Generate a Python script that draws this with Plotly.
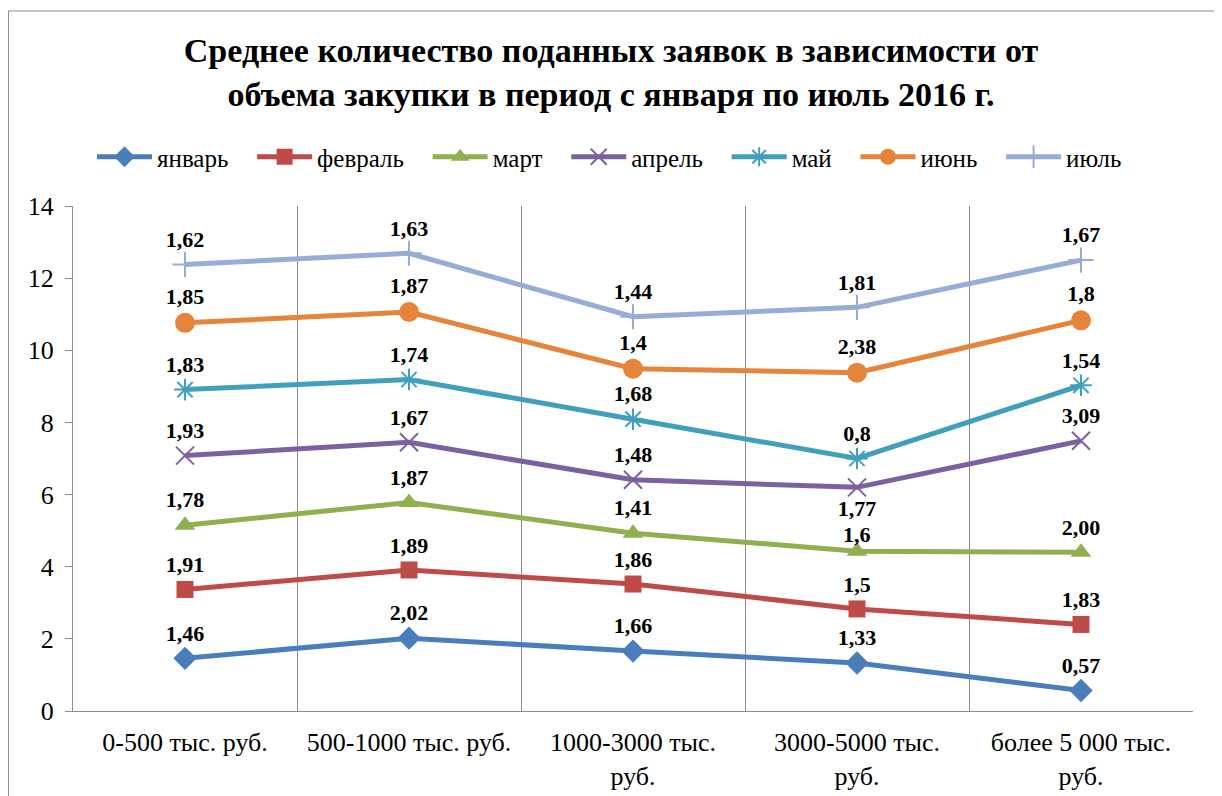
import plotly.graph_objects as go

categories = ["0-500 тыс. руб.", "500-1000 тыс. руб.", "1000-3000 тыс.<br>руб.",
              "3000-5000 тыс.<br>руб.", "более 5 000 тыс.<br>руб."]

series_names = ["январь", "февраль", "март", "апрель", "май", "июнь", "июль"]

jan = [1.46, 2.02, 1.66, 1.33, 0.57]
feb = [1.91, 1.89, 1.86, 1.50, 1.83]
mar = [1.78, 1.87, 1.41, 1.60, 2.00]
apr = [1.93, 1.67, 1.48, 1.77, 3.09]
may = [1.83, 1.74, 1.68, 0.80, 1.54]
jun = [1.85, 1.87, 1.40, 2.38, 1.80]
jul = [1.62, 1.63, 1.44, 1.81, 1.67]

jan_labels = ["1,46", "2,02", "1,66", "1,33", "0,57"]
feb_labels = ["1,91", "1,89", "1,86", "1,5", "1,83"]
mar_labels = ["1,78", "1,87", "1,41", "1,6", "2,00"]
apr_labels = ["1,93", "1,67", "1,48", "1,77", "3,09"]
may_labels = ["1,83", "1,74", "1,68", "0,8", "1,54"]
jun_labels = ["1,85", "1,87", "1,4", "2,38", "1,8"]
jul_labels = ["1,62", "1,63", "1,44", "1,81", "1,67"]

values = [jan, feb, mar, apr, may, jun, jul]
labels = [jan_labels, feb_labels, mar_labels, apr_labels, may_labels, jun_labels, jul_labels]

colors = ["#4A7EBB", "#BE4B48", "#8EB04F", "#7D60A0", "#40A0BC", "#E5843A", "#98ADD6"]
symbols = ["diamond", "square", "triangle-up", "x-thin-open", "asterisk-open", "circle", "cross-thin-open"]
sizes = [18, 17, 18, 18, 18, 20, 18]

FONT = "Liberation Serif, Times New Roman, serif"
LABEL_FONT = dict(family=FONT, size=22, color="black", weight="bold")

# the page body adds an 8px offset; plot area on screen: x 73..1193, y 206..711
OFF = 8
W, H = 1222 - OFF, 796 - OFF
PL, PR, PT, PB = 73 - OFF, 1193 - OFF, 206 - OFF, 711 - OFF
pw = PR - PL
ph = PB - PT

fig = go.Figure()
cum = [0.0] * len(categories)
annotations = []
for i, name in enumerate(series_names):
    cum = [c + v for c, v in zip(cum, values[i])]
    positions = ["top center"] * len(categories)
    texts = list(labels[i])
    if name == "апрель":
        positions[3] = "bottom center"
    if name == "март":
        # this label sits closer to its marker in the original
        texts[3] = ""
        annotations.append(dict(x=categories[3], y=cum[3], text=labels[i][3],
                                showarrow=False, yshift=17, font=LABEL_FONT))
    open_sym = symbols[i].endswith("open")
    fig.add_trace(go.Scatter(
        x=categories, y=values[i], name=name + "\u00a0\u00a0\u00a0",
        stackgroup="one", fill="none",
        mode="lines+markers+text",
        line=dict(color=colors[i], width=5),
        marker=dict(symbol=symbols[i], size=sizes[i], color=colors[i],
                    line=dict(color=colors[i], width=2 if open_sym else 0)),
        text=texts, textposition=positions,
        textfont=LABEL_FONT,
        hoverinfo="skip",
    ))

fig.update_layout(
    width=W, height=H, autosize=False,
    paper_bgcolor="white", plot_bgcolor="white",
    margin=dict(l=PL, r=W - PR, t=PT, b=H - PB, autoexpand=False),
    font=dict(family=FONT, color="black"),
    title=dict(
        text="<b>Среднее количество поданных заявок в зависимости от<br>объема закупки в период с января по июль 2016 г.</b>",
        x=(611 - OFF) / W, xref="container", xanchor="center",
        y=1 - (62 - OFF) / H, yref="container", yanchor="middle",
        font=dict(family=FONT, size=34, color="black"),
    ),
    legend=dict(
        orientation="h", x=(619 - 73) / pw, xref="paper", xanchor="center",
        y=(711 - 157) / ph, yanchor="middle",
        font=dict(family=FONT, size=25, color="black"),
        traceorder="normal", itemwidth=55,
    ),
    annotations=annotations,
    showlegend=True,
)

fig.update_xaxes(
    type="category", range=[-0.5, len(categories) - 0.5],
    tickson="boundaries", showgrid=True, gridcolor="#8C8C8C", gridwidth=1,
    showline=True, linecolor="#8C8C8C", linewidth=1, ticks="", tickangle=0,
    tickfont=dict(family=FONT, size=26, color="black"), zeroline=False, automargin=False,
    ticklabelstandoff=8,
)
fig.update_yaxes(
    range=[0, 14], dtick=2, showgrid=False, zeroline=False,
    showline=True, linecolor="#8C8C8C", linewidth=1,
    ticks="outside", ticklen=7, tickcolor="#8C8C8C",
    tickfont=dict(family=FONT, size=26, color="black"), automargin=False,
    ticklabelstandoff=6,
)

# outer chart border (screen x 8..1216, y 11..beyond bottom)
fig.add_shape(type="rect", xref="paper", yref="paper",
              x0=(0.5 - PL) / pw, x1=(1216 - OFF - PL) / pw,
              y0=(PB - (H + 10)) / ph, y1=(PB - (11 - OFF)) / ph,
              line=dict(color="#8C8C8C", width=1), fillcolor="rgba(0,0,0,0)", layer="above")

fig.write_html("out.html")
